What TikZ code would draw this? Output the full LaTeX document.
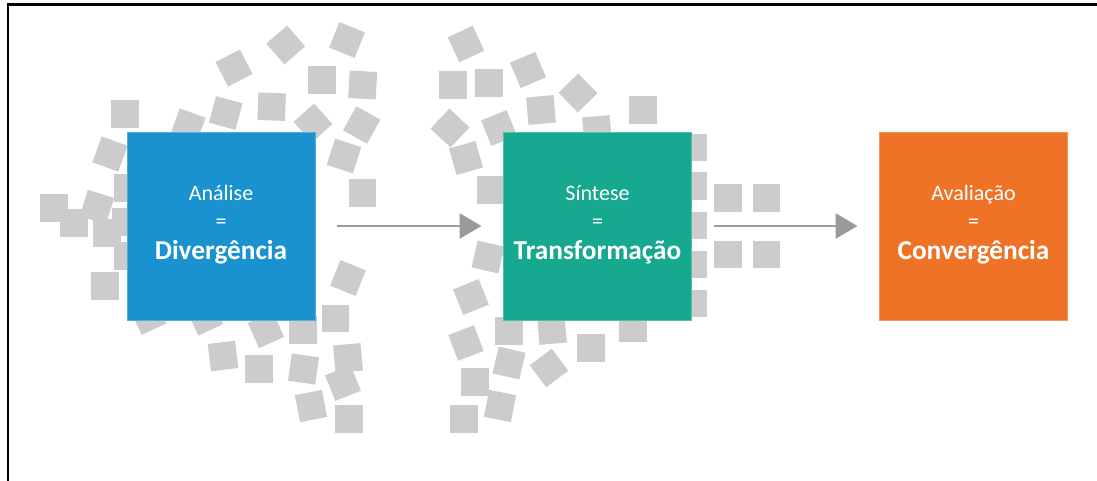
\documentclass[tikz,border=0pt]{standalone}
\usepackage{fontspec}
\setmainfont{Carlito}
\usetikzlibrary{arrows.meta,calc}
\definecolor{cblue}{HTML}{1B92D0}
\definecolor{cteal}{HTML}{16A98F}
\definecolor{corange}{HTML}{EE7326}
\definecolor{sqgray}{HTML}{CCCCCC}
\definecolor{arrgray}{HTML}{9A9A9A}
\begin{document}
\begin{tikzpicture}[x=1pt,y=-1pt,
  sqr/.style={fill=sqgray},
  stage/.style={minimum width=188pt,minimum height=188pt,inner sep=0pt,outer sep=0pt},
  lbl/.style={text=white,font=\fontsize{22}{24}\selectfont,anchor=base,inner sep=0pt},
  big/.style={text=white,font=\fontsize{27.3}{30}\selectfont\bfseries,anchor=base,inner sep=0pt},
  flow/.style={draw=arrgray,line width=2.5pt,-{Triangle[length=22pt,width=25pt]},shorten <=22pt,shorten >=22pt}]
\useasboundingbox (0,0) rectangle (1097,481);
\fill[white] (0,0) rectangle (1097,481);
% scattered squares: x / y / clockwise angle
\foreach \x/\y/\a in {
 285.7/45/-41, 347/40/22, 234/68/-27, 322/80/0, 362.7/85/3, 125/114/0,
 188/126/20, 225.7/113/15, 271.7/106.7/2, 313/123/48, 361.7/125/29,
 344/156/18, 110/154/20, 362.7/193/0, 54/208/0, 97/207/17, 74/223/0,
 128/188/0, 107/233/0, 126/222/0, 128/256/0, 105/286/0,
 148.4/316.7/-25, 205/317.4/-25, 266/330/-24, 303/330/0, 335.5/318.5/0,
 348/278/22, 223/356/-7, 259/369/0, 303.5/369/8, 348/358/-5,
 343/383/-22, 311/406/-11, 349/419/0,
 466/44/-25, 453/85/0, 489/83/0, 528/70/-23, 578/93/46, 643/110/0,
 541/110/-5, 450/128/43, 499/128/-22, 597/130/-5, 466/158/-16, 491/190/0,
 693.5/147.5/0, 693.5/186/0, 693.5/225.5/0, 693.5/264.5/0, 693.5/303.5/0,
 728/198/0, 766.5/198/0, 728/254.5/0, 766.5/254.5/0,
 488/257/13, 471/297/-22, 466/343/-21, 509/331/0, 552/330/-5, 633/328/0,
 591/348/0, 509/363/13, 549/368/-37, 475/382/0, 500/406/11, 464/419/0}
 \fill[sqr,rotate around={-\a:(\x,\y)}] (\x-13.75,\y-13.75) rectangle (\x+13.75,\y+13.75);
% frame
\draw[line width=2.5pt,line join=miter] (7.8,481) -- (7.8,4.7) -- (1097,4.7);
% stages
\node[stage,fill=cblue,draw=cblue!75!white,line width=0.8pt] (s1) at (221,226) {};
\node[stage,fill=cteal,draw=cteal!75!white,line width=0.8pt] (s2) at (597.5,226) {};
\node[stage,fill=corange,draw=corange!75!white,line width=0.8pt] (s3) at (973.5,226) {};
\foreach \s/\top/\bot in {s1/Análise/Divergência, s2/Síntese/Transformação, s3/Avaliação/Convergência}{
  \node[lbl] (\s a) at ($(\s.north)+(0,68.9)$) {\top};
  \node[lbl] (\s b) at ($(\s.north)+(0,96)$) {=};
  \node[big] (\s c) at ($(\s.north)+(0,127.5)$) {\bot};
}
% arrows
\draw[flow] (s1.east) -- (s2.west);
\draw[flow] (s2.east) -- (s3.west);
\end{tikzpicture}
\end{document}
